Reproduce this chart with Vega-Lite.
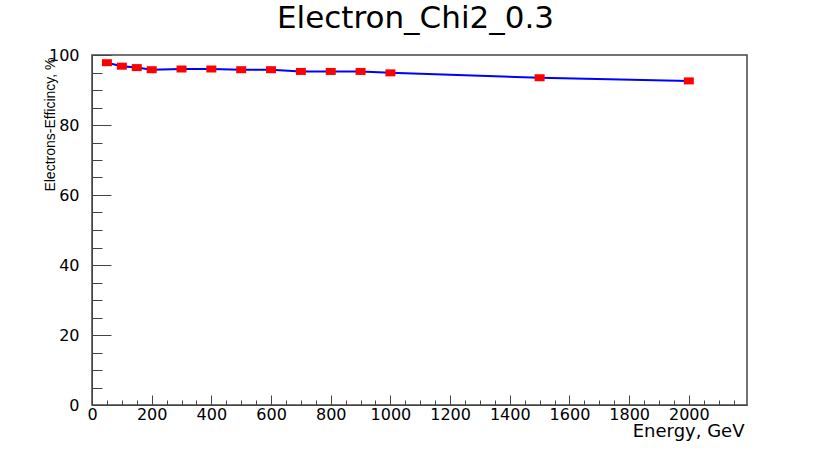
{
  "$schema": "https://vega.github.io/schema/vega-lite/v6.json",
  "autosize": {"type": "none"},
  "width": 655,
  "height": 350,
  "padding": {"left": 92, "top": 55, "right": 78, "bottom": 45},
  "background": "white",
  "title": {
    "text": "Electron_Chi2_0.3",
    "font": "DejaVu Sans",
    "fontSize": 31,
    "fontWeight": "normal",
    "color": "black",
    "anchor": "middle",
    "frame": "group",
    "baseline": "alphabetic",
    "offset": 24,
    "dx": -4,
    "dy": 36
  },
  "config": {
    "view": {"stroke": "#444", "strokeWidth": 1.5},
    "axis": {"grid": false, "domainColor": "#444", "tickColor": "#444", "labelColor": "black", "titleColor": "black"}
  },
  "data": {
    "values": [
      {"energy": 50, "eff": 97.8},
      {"energy": 100, "eff": 96.8},
      {"energy": 150, "eff": 96.4},
      {"energy": 200, "eff": 95.8},
      {"energy": 300, "eff": 96.0},
      {"energy": 400, "eff": 96.0},
      {"energy": 500, "eff": 95.8},
      {"energy": 600, "eff": 95.8},
      {"energy": 700, "eff": 95.3},
      {"energy": 800, "eff": 95.3},
      {"energy": 900, "eff": 95.3},
      {"energy": 1000, "eff": 94.9},
      {"energy": 1500, "eff": 93.5},
      {"energy": 2000, "eff": 92.6}
    ]
  },
  "encoding": {
    "x": {"field": "energy", "type": "quantitative", "scale": {"domain": [0, 2195], "nice": false, "zero": false}},
    "y": {"field": "eff", "type": "quantitative", "scale": {"domain": [0, 100], "nice": false}}
  },
  "layer": [
    {
      "mark": {"type": "line", "color": "#0000ff", "strokeWidth": 2},
      "encoding": {
        "x": {"field": "energy", "type": "quantitative",
          "axis": {"orient": "bottom", "values": [50,100,150,250,300,350,450,500,550,650,700,750,850,900,950,1050,1100,1150,1250,1300,1350,1450,1500,1550,1650,1700,1750,1850,1900,1950,2050,2100,2150],
            "labels": false, "domain": false, "tickSize": -5, "title": null}},
        "y": {"field": "eff", "type": "quantitative",
          "axis": {"orient": "left", "values": [5,10,15,25,30,35,45,50,55,65,70,75,85,90,95],
            "labels": false, "domain": false, "tickSize": -10, "title": null}}
      }
    },
    {
      "mark": {"type": "point", "filled": true, "color": "#ff0000", "opacity": 1, "size": 100, "shape": "M -1 -0.7 L 1 -0.7 L 1 0.7 L -1 0.7 Z"},
      "encoding": {
        "x": {"field": "energy", "type": "quantitative",
          "axis": {"orient": "bottom", "values": [0,200,400,600,800,1000,1200,1400,1600,1800,2000], "format": "d",
            "tickSize": -10, "labelPadding": 11, "labelFont": "DejaVu Sans", "labelFontSize": 16, "labelFlush": false,
            "title": "Energy, GeV", "titleFont": "DejaVu Sans", "titleFontSize": 18, "titleFontWeight": "normal",
            "titleAlign": "right", "titleBaseline": "alphabetic", "titleX": 652, "titleY": 31}},
        "y": {"field": "eff", "type": "quantitative",
          "axis": {"orient": "left", "values": [0,20,40,60,80,100], "format": "d",
            "tickSize": -19, "labelPadding": 32, "labelFont": "DejaVu Sans", "labelFontSize": 16, "labelFlush": false,
            "title": "Electrons-Efficincy, %", "titleFont": "Liberation Sans", "titleFontSize": 14, "titleFontWeight": "normal",
            "titleAngle": -90, "titleAlign": "right", "titleBaseline": "alphabetic", "titleX": -38, "titleY": 2}}
      }
    }
  ],
  "resolve": {"axis": {"x": "independent", "y": "independent"}}
}
